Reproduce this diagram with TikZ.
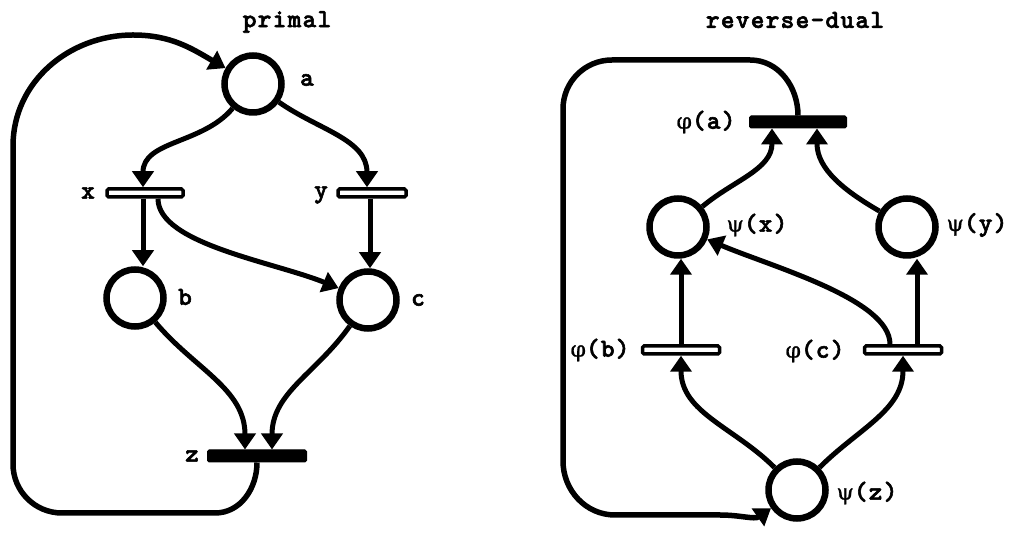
\documentclass[tikz,border=0pt]{standalone}
\usepackage{fontspec}
\newfontfamily\tw[LetterSpace=5,FakeBold=2.2]{lmmonolt10-bold.otf}
\newfontfamily\gr[FakeBold=1]{DejaVu Serif}
\usetikzlibrary{arrows.meta,calc}
\newcommand{\gphi}{{\gr\fontsize{22}{24}\selectfont φ}}
\newcommand{\gpsi}{{\gr\fontsize{22}{24}\selectfont ψ}}
\begin{document}
\begin{tikzpicture}[x=1pt,y=1pt,
  plc/.style={circle,draw,line width=6.5pt,minimum size=57pt,inner sep=0pt},
  hbar/.style={rectangle,draw,fill=white,line width=3.5pt,minimum height=8pt,inner sep=0pt,rounded corners=1.5pt},
  fbar/.style={rectangle,draw,fill=black,line width=1pt,minimum height=12pt,inner sep=0pt,rounded corners=1.5pt},
  conn/.style={line width=5pt,-{Triangle[length=16pt,width=21pt]}},
  loopline/.style={line width=5.5pt,-{Triangle[length=16pt,width=21pt]}},
  lbl/.style={font=\tw\fontsize{26}{28}\selectfont,inner sep=0pt},
]
\useasboundingbox (0,0) rectangle (1015,546);
% ---------- primal ----------
\node[lbl] (t1) at (287,524) {primal};
\node[plc] (a) at (253,462) {};
\node[plc] (b) at (135,248) {};
\node[plc] (c) at (368,246) {};
\node[hbar,minimum width=76pt] (xt) at (145,353) {};
\node[hbar,minimum width=68pt] (yt) at (372,353) {};
\node[fbar,minimum width=99pt] (zt) at (257,90) {};
\node[lbl] (la) at (307,466) {a};
\node[lbl] (lb) at (185,249) {b};
\node[lbl] (lc) at (418,246) {c};
\node[lbl] (lx) at (88,353) {x};
\node[lbl] (ly) at (321,351) {y};
\node[lbl] (lz) at (192,90) {z};

\coordinate (xs) at ($(xt.south)+(-2,0)$);
\coordinate (ys) at ($(yt.south)+(-2,0)$);
\draw[conn] (a) to[out=-130,in=90] ($(xt.north)+(-2,0)$);
\draw[conn] (a) to[out=-35,in=90] ($(yt.north)+(-5,0)$);
\draw[conn] (xs) -- (xs |- b.north);
\draw[conn] ($(xt.south)+(13,0)$) to[out=-90,in=158,out distance=45pt,in distance=70pt] (c);
\draw[conn] (ys) -- (ys |- c.north);
\draw[conn] (b) to[out=-50,in=90] ($(zt.north)+(-12,0)$);
\draw[conn] (c) to[out=-125,in=90] ($(zt.north)+(15,0)$);
\draw[loopline] (zt.south) to[out=-90,in=0] (215,33) -- (62,33)
  to[out=180,in=-90] (13,82) -- (13,400) to[out=90,in=180] (133,511)
  to[out=0,in=150] (a);

% ---------- reverse-dual ----------
\node[lbl] (t2) at (795,526) {reverse-dual};
\node[plc] (sx) at (678,319) {};
\node[plc] (sy) at (907,319) {};
\node[plc] (sz) at (797,56) {};
\node[fbar,minimum width=97pt] (pa) at (798,424) {};
\node[hbar,minimum width=77pt] (pb) at (681,196) {};
\node[hbar,minimum width=77pt] (pc) at (903,196) {};
\node[lbl] (lpa) at (706,424) {\gphi(a)};
\node[lbl] (lpb) at (600,196) {\gphi(b)};
\node[lbl] (lpc) at (815,195) {\gphi(c)};
\node[lbl] (lsx) at (757,321) {\gpsi(x)};
\node[lbl] (lsy) at (977,321) {\gpsi(y)};
\node[lbl] (lsz) at (867,53) {\gpsi(z)};

\coordinate (cr) at ($(pc.north)+(14,0)$);
\draw[conn] (sx) to[out=40,in=-90] ($(pa.south)+(-26,0)$);
\draw[conn] (sy) to[out=150,in=-90] ($(pa.south)+(19,0)$);
\draw[conn] (pb.north) -- (pb.north |- sx.south);
\draw[conn] (cr) -- (cr |- sy.south);
\draw[conn] ($(pc.north)+(-13,0)$) to[out=90,in=-23,out distance=45pt,in distance=70pt] (sx);
\draw[conn] (sz) to[out=135,in=-90] (pb.south);
\draw[conn] (sz) to[out=45,in=-90] (pc.south);
\draw[loopline] (pa.north) to[out=90,in=0] (750,486) -- (612,486)
  to[out=180,in=90] (563,437) -- (563,85) to[out=-90,in=180] (615,31)
  -- (720,31) to[out=0,in=215] (sz);
\end{tikzpicture}
\end{document}
